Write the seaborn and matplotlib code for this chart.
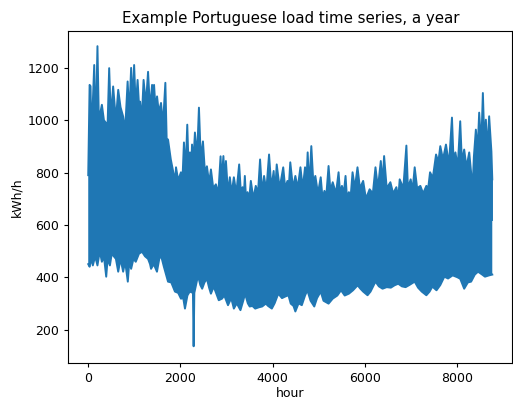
import numpy as np
import pandas as pd
import matplotlib
matplotlib.use("Agg")
import matplotlib.pyplot as plt
import seaborn as sns

# Upper envelope of the hourly load (peaks and notches)
upper_hour = [0, 30, 50, 70, 130, 160, 200, 230, 296, 340, 380, 410, 454, 490, 540, 600, 650, 700, 757, 800,
              854, 890, 930, 960, 995, 1030, 1070, 1100, 1124, 1160, 1200, 1250, 1297, 1340, 1384, 1400, 1427,
              1460, 1492, 1530, 1578, 1620, 1672, 1700, 1730, 1790, 1860, 1880, 1903, 1950, 2010, 2040, 2075,
              2110, 2147, 2175, 2205, 2230, 2250, 2280, 2313, 2360, 2400, 2440, 2487, 2530, 2573, 2620, 2660,
              2710, 2767, 2820, 2869, 2890, 2930, 2960, 2985, 3030, 3070, 3110, 3157, 3210, 3272, 3310, 3345,
              3370, 3395, 3420, 3453, 3490, 3525, 3580, 3632, 3680, 3725, 3770, 3812, 3860, 3920, 3970, 4020,
              4050, 4086, 4150, 4227, 4270, 4318, 4340, 4380, 4440, 4490, 4540, 4600, 4650, 4700, 4730, 4757,
              4790, 4836, 4880, 4923, 4980, 5040, 5080, 5120, 5160, 5210, 5250, 5300, 5370, 5427, 5460, 5500,
              5540, 5578, 5610, 5650, 5690, 5730, 5780, 5837, 5890, 5960, 6020, 6100, 6170, 6227, 6280, 6342,
              6380, 6414, 6470, 6550, 6610, 6680, 6720, 6752, 6830, 6897, 6930, 6990, 7030, 7077, 7130, 7200,
              7260, 7330, 7370, 7410, 7470, 7540, 7590, 7632, 7690, 7755, 7820, 7885, 7920, 7960, 8010, 8064,
              8100, 8150, 8200, 8259, 8300, 8330, 8360, 8403, 8440, 8475, 8520, 8555, 8590, 8620, 8650, 8691,
              8740, 8759]
upper_kwh = [790, 1135, 1130, 930, 1211, 940, 1283, 1000, 1059, 1000, 991, 920, 1199, 1010, 1129, 1000, 1116, 1050,
             1014, 960, 1148, 1020, 1200, 1060, 1211, 1050, 1154, 1060, 1071, 1000, 1154, 1060, 1185, 1040, 1135,
             1000, 1135, 1040, 1091, 1030, 1066, 980, 1143, 930, 926, 850, 787, 760, 820, 770, 801, 760, 915,
             800, 983, 820, 877, 800, 907, 840, 953, 860, 1048, 850, 919, 800, 824, 760, 812, 740, 755, 720, 862,
             760, 863, 760, 844, 720, 782, 720, 782, 720, 831, 720, 744, 700, 787, 700, 725, 700, 768, 700, 749,
             720, 850, 720, 787, 730, 869, 740, 806, 720, 831, 740, 820, 740, 768, 720, 839, 740, 787, 740, 820,
             740, 820, 760, 877, 740, 901, 760, 787, 720, 782, 700, 730, 710, 825, 730, 763, 720, 801, 720, 749,
             720, 787, 700, 725, 710, 801, 740, 820, 740, 768, 700, 736, 720, 820, 740, 844, 760, 863, 740, 763,
             720, 744, 700, 774, 740, 903, 740, 774, 730, 820, 740, 749, 720, 749, 740, 801, 780, 869, 840, 901,
             850, 907, 830, 1010, 840, 877, 820, 996, 840, 888, 820, 877, 800, 730, 860, 964, 880, 1029, 900,
             1104, 900, 1002, 880, 1015, 880, 774]

# Lower envelope of the hourly load
lower_hour = [0, 30, 60, 100, 150, 200, 250, 296, 340, 390, 420, 470, 510, 540, 600, 650, 700, 757, 800, 858,
              890, 930, 980, 1030, 1100, 1168, 1230, 1297, 1340, 1362, 1420, 1490, 1540, 1578, 1640, 1730, 1800,
              1880, 1950, 2010, 2060, 2097, 2150, 2200, 2270, 2285, 2300, 2380, 2430, 2470, 2520, 2573, 2620,
              2660, 2720, 2770, 2830, 2900, 2950, 3030, 3100, 3157, 3220, 3300, 3360, 3400, 3460, 3500, 3560,
              3620, 3700, 3770, 3850, 3900, 3980, 4040, 4120, 4200, 4270, 4340, 4390, 4450, 4490, 4560, 4630,
              4700, 4750, 4820, 4900, 4960, 5040, 5100, 5210, 5300, 5400, 5480, 5560, 5650, 5740, 5840, 5900,
              5960, 6055, 6120, 6227, 6300, 6380, 6470, 6560, 6640, 6720, 6800, 6880, 6960, 7077, 7150, 7230,
              7330, 7400, 7460, 7550, 7632, 7720, 7800, 7900, 8000, 8064, 8150, 8230, 8300, 8380, 8450, 8540,
              8600, 8691, 8759]
lower_kwh = [450, 440, 470, 445, 480, 445, 500, 459, 480, 402, 470, 445, 490, 483, 470, 421, 470, 421, 460, 383,
             460, 432, 470, 459, 490, 497, 480, 470, 450, 432, 450, 421, 470, 483, 440, 383, 380, 345, 340, 318,
             320, 280, 330, 345, 340, 136, 340, 406, 370, 356, 380, 394, 360, 337, 364, 340, 312, 318, 330, 293,
             320, 280, 300, 274, 310, 337, 300, 288, 290, 280, 285, 288, 299, 290, 280, 300, 337, 320, 326, 331,
             299, 290, 269, 300, 293, 330, 350, 310, 288, 320, 345, 310, 299, 318, 330, 350, 330, 337, 350, 369,
             356, 345, 331, 345, 383, 365, 356, 362, 360, 369, 375, 365, 362, 370, 383, 360, 345, 331, 345, 364,
             350, 370, 402, 395, 407, 400, 394, 356, 380, 383, 410, 421, 410, 402, 407, 410]

# Last value of the series
end_hour = [8759, 8759]
end_kwh = [774, 620]

color = "#1f77b4"
fig, ax = plt.subplots(figsize=(5.13, 3.99), dpi=100)
fig.subplots_adjust(left=0.1326, right=0.999, top=0.9223, bottom=0.0902)

# solid band between the envelopes
ax.fill(list(upper_hour) + list(lower_hour[::-1]),
        list(upper_kwh) + list(lower_kwh[::-1]),
        color=color, linewidth=0)

up = pd.DataFrame({"hour": upper_hour, "kwh": upper_kwh})
lo = pd.DataFrame({"hour": lower_hour, "kwh": lower_kwh})
en = pd.DataFrame({"hour": end_hour, "kwh": end_kwh})
for df in (up, lo, en):
    sns.lineplot(data=df, x="hour", y="kwh", estimator=None, sort=False,
                 color=color, linewidth=1.4, ax=ax)

ax.set_xlim(-438, 9197)
ax.set_ylim(72, 1341)
ax.set_xticks([0, 2000, 4000, 6000, 8000])
ax.set_yticks([200, 400, 600, 800, 1000, 1200])
ax.tick_params(labelsize=9, length=3.2, pad=3)
ax.set_xlabel("hour", fontsize=9, labelpad=2)
ax.set_ylabel("kWh/h", fontsize=9, labelpad=3)
ax.set_title("Example Portuguese load time series, a year", fontsize=10.8, pad=5.5)

fig.savefig("out.png", dpi=100)
